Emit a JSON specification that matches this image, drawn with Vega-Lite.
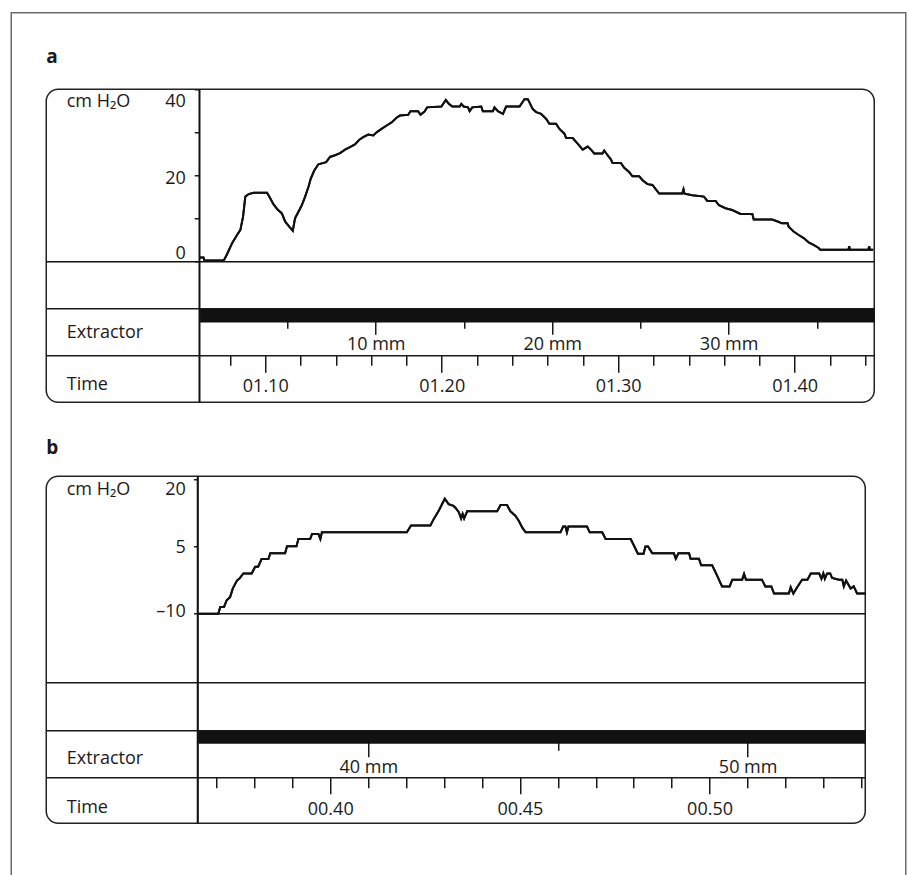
{
  "$schema": "https://vega.github.io/schema/vega-lite/v6.json",
  "padding": {"left": 10.25, "top": 11.75, "right": 0, "bottom": 0},
  "background": "white",
  "config": {
    "font": "Open Sans",
    "view": {"stroke": null},
    "axis": {
      "grid": false,
      "labelFont": "Open Sans",
      "titleFont": "Open Sans",
      "labelFontSize": 18,
      "titleFontSize": 18,
      "titleFontWeight": "normal",
      "labelColor": "#1a1a1a",
      "titleColor": "#1a1a1a",
      "domainColor": "#1a1a1a",
      "tickColor": "#1a1a1a",
      "domainWidth": 1.5,
      "tickWidth": 1.5,
      "labelFlush": false,
      "labelOverlap": false
    }
  },
  "datasets": {
    "trace_a": [
      {"t": 66.27, "p": 1.0}, {"t": 66.5, "p": 1.0}, {"t": 66.55, "p": 0.3}, {"t": 67.65, "p": 0.3},
      {"t": 67.84, "p": 1.8}, {"t": 68.12, "p": 4.3}, {"t": 68.4, "p": 6.2}, {"t": 68.59, "p": 7.4},
      {"t": 68.74, "p": 10.4}, {"t": 68.87, "p": 15.1}, {"t": 69.06, "p": 15.7}, {"t": 69.34, "p": 16.0},
      {"t": 70.1, "p": 16.0}, {"t": 70.28, "p": 14.7}, {"t": 70.47, "p": 13.3}, {"t": 70.7, "p": 12.1},
      {"t": 70.94, "p": 11.2}, {"t": 71.13, "p": 9.3}, {"t": 71.37, "p": 8.1}, {"t": 71.56, "p": 7.2},
      {"t": 71.69, "p": 10.1}, {"t": 71.88, "p": 11.6}, {"t": 72.07, "p": 13.1}, {"t": 72.26, "p": 15.1},
      {"t": 72.45, "p": 17.4}, {"t": 72.58, "p": 19.3}, {"t": 72.77, "p": 21.1}, {"t": 73.01, "p": 22.6},
      {"t": 73.45, "p": 23.1}, {"t": 73.67, "p": 24.3}, {"t": 73.95, "p": 24.7}, {"t": 74.24, "p": 25.2},
      {"t": 74.52, "p": 26.0}, {"t": 74.8, "p": 26.6}, {"t": 75.08, "p": 27.2}, {"t": 75.33, "p": 28.3},
      {"t": 75.55, "p": 28.9}, {"t": 75.84, "p": 29.5}, {"t": 76.12, "p": 29.3}, {"t": 76.31, "p": 30.0},
      {"t": 76.59, "p": 30.8}, {"t": 76.88, "p": 31.6}, {"t": 77.16, "p": 32.3}, {"t": 77.44, "p": 33.4},
      {"t": 77.63, "p": 33.9}, {"t": 78.1, "p": 34.1}, {"t": 78.23, "p": 34.9}, {"t": 78.66, "p": 34.9},
      {"t": 78.8, "p": 34.1}, {"t": 79.04, "p": 34.9}, {"t": 79.17, "p": 35.8}, {"t": 79.98, "p": 36.0},
      {"t": 80.23, "p": 37.5}, {"t": 80.41, "p": 36.6}, {"t": 80.6, "p": 36.0}, {"t": 81.02, "p": 36.0},
      {"t": 81.11, "p": 36.6}, {"t": 81.24, "p": 36.0}, {"t": 81.49, "p": 35.8}, {"t": 81.58, "p": 34.9},
      {"t": 81.73, "p": 35.8}, {"t": 82.24, "p": 36.0}, {"t": 82.33, "p": 34.9}, {"t": 82.9, "p": 34.9},
      {"t": 82.99, "p": 35.8}, {"t": 83.18, "p": 34.9}, {"t": 83.47, "p": 34.3}, {"t": 83.65, "p": 36.0},
      {"t": 84.41, "p": 36.0}, {"t": 84.69, "p": 37.7}, {"t": 84.88, "p": 37.7}, {"t": 85.16, "p": 35.4},
      {"t": 85.35, "p": 34.7}, {"t": 85.63, "p": 34.3}, {"t": 85.92, "p": 33.1}, {"t": 86.1, "p": 32.0},
      {"t": 86.48, "p": 32.0}, {"t": 86.67, "p": 30.8}, {"t": 86.95, "p": 29.7}, {"t": 87.05, "p": 28.7},
      {"t": 87.42, "p": 28.7}, {"t": 87.7, "p": 27.4}, {"t": 87.99, "p": 26.0}, {"t": 88.27, "p": 26.7},
      {"t": 88.46, "p": 26.0}, {"t": 88.64, "p": 25.1}, {"t": 89.11, "p": 25.1}, {"t": 89.21, "p": 25.8},
      {"t": 89.4, "p": 24.7}, {"t": 89.59, "p": 23.7}, {"t": 89.68, "p": 22.9}, {"t": 90.15, "p": 22.9},
      {"t": 90.34, "p": 21.8}, {"t": 90.62, "p": 20.8}, {"t": 90.81, "p": 19.8}, {"t": 91.19, "p": 19.8},
      {"t": 91.38, "p": 18.9}, {"t": 91.66, "p": 18.0}, {"t": 91.94, "p": 17.8}, {"t": 92.32, "p": 15.8},
      {"t": 93.63, "p": 15.8}, {"t": 93.7, "p": 16.8}, {"t": 93.76, "p": 15.8}, {"t": 94.2, "p": 15.4},
      {"t": 94.86, "p": 15.1}, {"t": 95.05, "p": 14.1}, {"t": 95.52, "p": 14.1}, {"t": 95.71, "p": 13.1},
      {"t": 96.08, "p": 12.4}, {"t": 96.46, "p": 12.0}, {"t": 96.93, "p": 11.1}, {"t": 97.6, "p": 11.1},
      {"t": 97.68, "p": 9.8}, {"t": 98.72, "p": 9.8}, {"t": 99.0, "p": 9.4}, {"t": 99.28, "p": 8.9},
      {"t": 99.6, "p": 8.9}, {"t": 99.66, "p": 8.1}, {"t": 99.94, "p": 7.0}, {"t": 100.23, "p": 6.2},
      {"t": 100.51, "p": 5.5}, {"t": 100.79, "p": 4.5}, {"t": 101.07, "p": 3.9}, {"t": 101.36, "p": 3.2},
      {"t": 101.45, "p": 2.8}, {"t": 103.05, "p": 2.8}, {"t": 103.09, "p": 3.6}, {"t": 103.13, "p": 2.8},
      {"t": 104.18, "p": 2.8}, {"t": 104.22, "p": 3.6}, {"t": 104.26, "p": 2.8}, {"t": 104.45, "p": 2.8}
    ],
    "trace_b": [
      {"t": 36.53, "p": -10}, {"t": 37.05, "p": -10}, {"t": 37.1, "p": -8.5}, {"t": 37.2, "p": -8.5},
      {"t": 37.27, "p": -7.0}, {"t": 37.36, "p": -6.3}, {"t": 37.43, "p": -4.4}, {"t": 37.54, "p": -2.6},
      {"t": 37.6, "p": -2.2}, {"t": 37.71, "p": -1.0}, {"t": 37.93, "p": -1.0}, {"t": 38.02, "p": 0.5},
      {"t": 38.1, "p": 0.5}, {"t": 38.19, "p": 2.2}, {"t": 38.37, "p": 2.2}, {"t": 38.42, "p": 3.5},
      {"t": 38.81, "p": 3.5}, {"t": 38.86, "p": 5.1}, {"t": 39.11, "p": 5.1}, {"t": 39.16, "p": 6.7},
      {"t": 39.47, "p": 6.7}, {"t": 39.52, "p": 7.8}, {"t": 39.69, "p": 7.8}, {"t": 39.74, "p": 6.7},
      {"t": 39.78, "p": 8.2}, {"t": 42.02, "p": 8.2}, {"t": 42.13, "p": 9.7}, {"t": 42.64, "p": 9.7},
      {"t": 42.73, "p": 11.2}, {"t": 42.86, "p": 13.0}, {"t": 43.02, "p": 15.7}, {"t": 43.12, "p": 14.5},
      {"t": 43.25, "p": 14.1}, {"t": 43.3, "p": 13.7}, {"t": 43.39, "p": 12.7}, {"t": 43.45, "p": 11.3},
      {"t": 43.49, "p": 12.3}, {"t": 43.53, "p": 11.3}, {"t": 43.61, "p": 12.9}, {"t": 44.4, "p": 12.9},
      {"t": 44.49, "p": 14.3}, {"t": 44.66, "p": 14.3}, {"t": 44.75, "p": 12.9}, {"t": 44.88, "p": 11.9},
      {"t": 44.97, "p": 10.8}, {"t": 45.06, "p": 9.3}, {"t": 45.15, "p": 8.2}, {"t": 46.07, "p": 8.2},
      {"t": 46.14, "p": 9.5}, {"t": 46.2, "p": 9.5}, {"t": 46.24, "p": 8.2}, {"t": 46.28, "p": 9.5},
      {"t": 46.77, "p": 9.5}, {"t": 46.84, "p": 8.2}, {"t": 47.17, "p": 8.2}, {"t": 47.26, "p": 6.7},
      {"t": 47.92, "p": 6.7}, {"t": 48.01, "p": 5.2}, {"t": 48.11, "p": 3.4}, {"t": 48.26, "p": 3.4},
      {"t": 48.31, "p": 5.0}, {"t": 48.38, "p": 5.0}, {"t": 48.49, "p": 3.5}, {"t": 49.06, "p": 3.5},
      {"t": 49.11, "p": 2.3}, {"t": 49.18, "p": 3.5}, {"t": 49.46, "p": 3.5}, {"t": 49.5, "p": 2.3},
      {"t": 49.72, "p": 2.3}, {"t": 49.78, "p": 0.8}, {"t": 50.07, "p": 0.8}, {"t": 50.2, "p": -1.5},
      {"t": 50.33, "p": -3.9}, {"t": 50.53, "p": -3.9}, {"t": 50.6, "p": -2.4}, {"t": 50.86, "p": -2.4},
      {"t": 50.91, "p": -1.1}, {"t": 50.96, "p": -2.4}, {"t": 51.38, "p": -2.4}, {"t": 51.47, "p": -3.9},
      {"t": 51.63, "p": -3.9}, {"t": 51.7, "p": -5.5}, {"t": 52.09, "p": -5.5}, {"t": 52.14, "p": -4.1},
      {"t": 52.21, "p": -5.5}, {"t": 52.31, "p": -4.1}, {"t": 52.44, "p": -2.4}, {"t": 52.58, "p": -2.4},
      {"t": 52.67, "p": -1.0}, {"t": 52.89, "p": -1.0}, {"t": 52.95, "p": -2.2}, {"t": 53.0, "p": -1.0},
      {"t": 53.04, "p": -2.2}, {"t": 53.1, "p": -1.0}, {"t": 53.18, "p": -1.0}, {"t": 53.23, "p": -2.0},
      {"t": 53.41, "p": -2.4}, {"t": 53.5, "p": -2.4}, {"t": 53.54, "p": -3.9}, {"t": 53.6, "p": -2.6},
      {"t": 53.72, "p": -4.4}, {"t": 53.8, "p": -3.9}, {"t": 53.89, "p": -5.5}, {"t": 54.11, "p": -5.5}
    ]
  },
  "bounds": "flush",
  "spacing": 35,
  "resolve": {"scale": {"x": "independent", "y": "independent"}},
  "hconcat": [
    {
      "bounds": "flush",
      "resolve": {"scale": {"x": "independent", "y": "independent"}},
      "vconcat": [
        {
          "width": 894.5,
          "height": 870,
          "view": {"stroke": "#6b6b6b", "strokeWidth": 1.5},
          "data": {"values": []},
          "mark": {"type": "rule"},
          "encoding": {}
        }
      ]
    },
    {
      "bounds": "flush",
      "spacing": 75.5,
      "resolve": {"scale": {"x": "independent", "y": "independent"}},
      "vconcat": [
        {
          "width": 1,
          "height": 1,
          "data": {"values": []},
          "mark": {"type": "rule"},
          "encoding": {}
        },
        {
          "bounds": "flush",
          "spacing": 74,
          "resolve": {"scale": {"x": "independent", "y": "independent"}},
          "vconcat": [
            {
              "title": {"text": "a", "anchor": "start", "frame": "group", "font": "Open Sans", "fontSize": 19, "fontWeight": "bold", "color": "#1a1a1a", "offset": 7, "baseline": "alphabetic"},
              "width": 828,
              "height": 313,
              "view": {"stroke": "#222222", "strokeWidth": 1.5, "cornerRadius": 12},
              "resolve": {"scale": {"x": "independent"}},
              "layer": [
                {
                  "data": {"name": "trace_a"},
                  "mark": {"type": "line", "color": "#111111", "strokeWidth": 2},
                  "encoding": {
                    "x": {
                      "field": "t", "type": "quantitative",
                      "scale": {"domain": [57.589, 104.51], "nice": false, "zero": false},
                      "axis": {
                        "orient": "bottom", "offset": -47,
                        "values": [68, 70, 72, 74, 76, 78, 80, 82, 84, 86, 88, 90, 92, 94, 96, 98, 100, 102, 104],
                        "tickSize": {"condition": {"test": "datum.value % 10 === 0", "value": 17}, "value": 10},
                        "labelExpr": "datum.value % 10 === 0 ? format(floor(datum.value / 60), '02d') + '.' + format(datum.value % 60, '02d') : ''",
                        "labelPadding": 5,
                        "title": "Time", "titleX": 20, "titleY": 29, "titleAlign": "left", "titleBaseline": "middle", "titleAngle": 0
                      }
                    },
                    "y": {
                      "field": "p", "type": "quantitative",
                      "scale": {"domain": [-32.58, 40], "nice": false, "zero": false},
                      "axis": {
                        "orient": "left", "offset": -153,
                        "values": [0, 10, 20, 30, 40],
                        "domain": true, "tickSize": 5, "labelPadding": 9,
                        "labelExpr": "datum.value % 20 === 0 ? '' + datum.value : ''",
                        "labelBaseline": "middle",
                        "labelOffset": {"condition": [{"test": "datum.value === 40", "value": 12}, {"test": "datum.value === 0", "value": -8.5}], "value": 3},
                        "title": "cm H₂O", "titleX": -133, "titleY": 12, "titleAngle": 0, "titleAlign": "left", "titleBaseline": "middle"
                      }
                    }
                  }
                },
                {
                  "data": {"name": "trace_a"},
                  "mark": {"type": "line", "color": "#111111", "strokeWidth": 2},
                  "encoding": {
                    "x": {
                      "field": "t", "type": "quantitative",
                      "scale": {"domain": [57.589, 104.51], "nice": false, "zero": false},
                      "axis": {"orient": "bottom", "offset": -94, "ticks": false, "labels": false, "title": null, "domain": true}
                    },
                    "y": {"field": "p", "type": "quantitative"}
                  }
                },
                {
                  "data": {"values": [{"p": 0}]},
                  "mark": {"type": "rule", "color": "#111111", "strokeWidth": 1.5},
                  "encoding": {
                    "y": {"field": "p", "type": "quantitative"}
                  }
                },
                {
                  "data": {"values": [{"mm": 0}]},
                  "mark": {"type": "rule", "color": "#111111", "strokeWidth": 1.5},
                  "encoding": {
                    "x": {
                      "field": "mm", "type": "quantitative",
                      "scale": {"domain": [0, 38.25], "range": [153, 828], "nice": false, "zero": false},
                      "axis": {
                        "orient": "bottom", "offset": -87,
                        "values": [5, 10, 15, 20, 25, 30, 35],
                        "domainWidth": 13.5, "domainColor": "#111111",
                        "tickSize": {"condition": {"test": "datum.value % 10 === 0", "value": 19}, "value": 13},
                        "labelExpr": "datum.value % 10 === 0 ? datum.value + ' mm' : ''",
                        "labelPadding": 1,
                        "title": "Extractor", "titleX": 20, "titleY": 17, "titleAlign": "left", "titleBaseline": "middle", "titleAngle": 0
                      }
                    }
                  }
                }
              ]
            },
            {
              "title": {"text": "b", "anchor": "start", "frame": "group", "font": "Open Sans", "fontSize": 19, "fontWeight": "bold", "color": "#1a1a1a", "offset": 3, "baseline": "alphabetic"},
              "width": 819,
              "height": 347,
              "view": {"stroke": "#222222", "strokeWidth": 1.5, "cornerRadius": 12},
              "resolve": {"scale": {"x": "independent"}},
              "layer": [
                {
                  "data": {"name": "trace_b"},
                  "mark": {"type": "line", "color": "#111111", "strokeWidth": 2},
                  "encoding": {
                    "x": {
                      "field": "t", "type": "quantitative",
                      "scale": {"domain": [32.513, 54.105], "nice": false, "zero": false},
                      "axis": {
                        "orient": "bottom", "offset": -46,
                        "values": [37, 38, 39, 40, 41, 42, 43, 44, 45, 46, 47, 48, 49, 50, 51, 52, 53, 54],
                        "tickSize": {"condition": {"test": "datum.value % 5 === 0", "value": 16.5}, "value": 10.5},
                        "labelExpr": "datum.value % 5 === 0 ? format(floor(datum.value / 60), '02d') + '.' + format(datum.value % 60, '02d') : ''",
                        "labelPadding": 6.4,
                        "title": "Time", "titleX": 20, "titleY": 30, "titleAlign": "left", "titleBaseline": "middle", "titleAngle": 0
                      }
                    },
                    "y": {
                      "field": "p", "type": "quantitative",
                      "scale": {"domain": [-56.9, 20.74], "nice": false, "zero": false},
                      "axis": {
                        "orient": "left", "offset": -151.3,
                        "values": [-10, 5, 20],
                        "domain": true, "tickSize": 4, "labelPadding": 8.3,
                        "labelExpr": "datum.value < 0 ? '–' + abs(datum.value) : '' + datum.value",
                        "labelBaseline": "middle",
                        "labelOffset": {"condition": [{"test": "datum.value === 20", "value": 9.75}, {"test": "datum.value === -10", "value": -2.6}], "value": 1},
                        "title": "cm H₂O", "titleX": -131.3, "titleY": 13, "titleAngle": 0, "titleAlign": "left", "titleBaseline": "middle"
                      }
                    }
                  }
                },
                {
                  "data": {"name": "trace_b"},
                  "mark": {"type": "line", "color": "#111111", "strokeWidth": 2},
                  "encoding": {
                    "x": {
                      "field": "t", "type": "quantitative",
                      "scale": {"domain": [32.513, 54.105], "nice": false, "zero": false},
                      "axis": {"orient": "bottom", "offset": -141, "ticks": false, "labels": false, "title": null, "domain": true}
                    },
                    "y": {"field": "p", "type": "quantitative"}
                  }
                },
                {
                  "data": {"values": [{"t": 36.5}]},
                  "mark": {"type": "rule", "color": "#111111", "strokeWidth": 1.5},
                  "encoding": {
                    "x": {
                      "field": "t", "type": "quantitative",
                      "scale": {"domain": [32.513, 54.105], "nice": false, "zero": false},
                      "axis": {"orient": "bottom", "offset": -93, "ticks": false, "labels": false, "title": null, "domain": true}
                    }
                  }
                },
                {
                  "data": {"values": [{"mm": 35.5, "mm_end": 53.1, "p": -10}]},
                  "mark": {"type": "rule", "color": "#111111", "strokeWidth": 1.5},
                  "encoding": {
                    "x": {
                      "field": "mm", "type": "quantitative",
                      "scale": {"domain": [35.5, 53.1], "range": [151.3, 819], "nice": false, "zero": false},
                      "axis": {
                        "orient": "bottom", "offset": -86.5,
                        "values": [40, 45, 50],
                        "domainWidth": 13, "domainColor": "#111111",
                        "tickSize": {"condition": {"test": "datum.value % 10 === 0", "value": 20}, "value": 13.5},
                        "labelExpr": "datum.value % 10 === 0 ? datum.value + ' mm' : ''",
                        "labelPadding": 1.5,
                        "title": "Extractor", "titleX": 20, "titleY": 21.5, "titleAlign": "left", "titleBaseline": "middle", "titleAngle": 0
                      }
                    },
                    "x2": {"field": "mm_end"},
                    "y": {"field": "p", "type": "quantitative"}
                  }
                }
              ]
            }
          ]
        }
      ]
    }
  ]
}
